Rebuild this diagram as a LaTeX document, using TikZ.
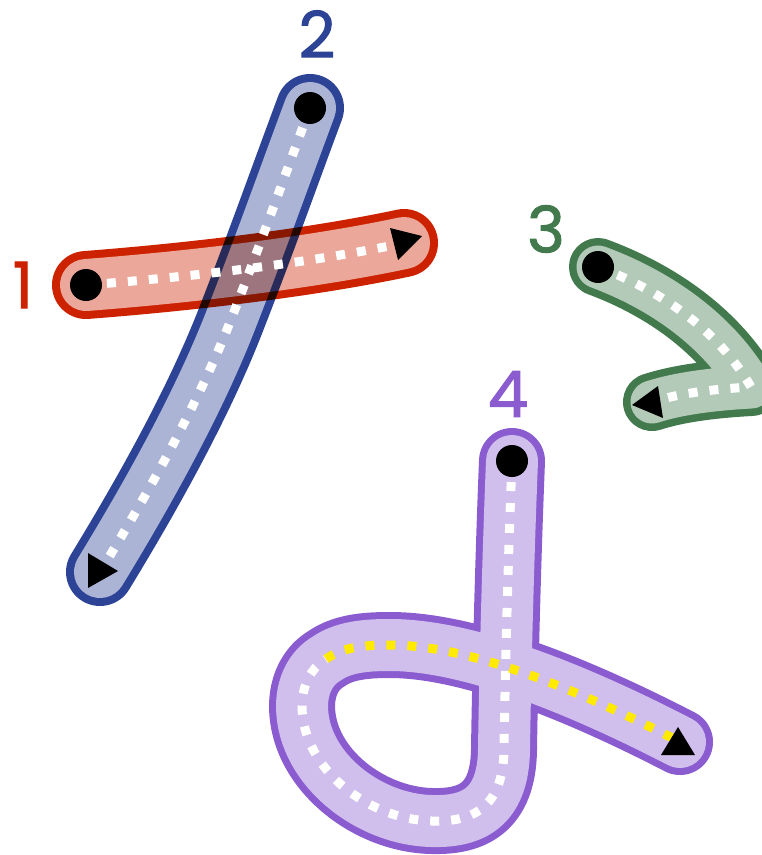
\documentclass[tikz,border=0pt]{standalone}
\usepackage{fontspec}
\newfontfamily\digitfont{Poppins}[FakeBold=1.6]
\definecolor{strokered}{HTML}{CC2200}
\definecolor{strokeblue}{HTML}{2C4396}
\definecolor{strokegreen}{HTML}{437A4D}
\definecolor{strokepurple}{HTML}{8A5CCF}
\definecolor{guideyellow}{HTML}{FFEA00}

\begin{document}
\begin{tikzpicture}[x=1pt,y=-1pt,
  band/.style={line width=#1,line cap=round,line join=round,blend mode=normal},
  guide/.style={line width=9pt,dash pattern=on 9pt off 12pt},
  startdot/.style={fill=black},
  tipmark/.style={fill=black},
  numlabel/.style={font=\digitfont\fontsize{64}{64}\selectfont,inner sep=0pt}
]
\useasboundingbox (0,0) rectangle (762,855);
\clip (0,0) rectangle (762,855);

% stroke 1
\draw[band=68,strokered] (86,285) .. controls (190,277) and (310,263) .. (404,243);
\draw[band=52,strokered!40] (86,285) .. controls (190,277) and (310,263) .. (404,243);

% stroke 2
\begin{scope}[blend mode=multiply]
\begin{scope}[transparency group]
\draw[band=68,strokeblue] (310,108) .. controls (285,175) and (262,240) .. (232,317)
  .. controls (200,400) and (150,490) .. (100,572);
\draw[band=52,strokeblue!40] (310,108) .. controls (285,175) and (262,240) .. (232,317)
  .. controls (200,400) and (150,490) .. (100,572);
\end{scope}
\end{scope}

% stroke 3
\draw[band=58,strokegreen] (598,267) .. controls (660,290) and (718,330) .. (751,387)
  .. controls (715,389) and (680,393) .. (652,402);
\draw[band=43,strokegreen!40] (598,267) .. controls (660,290) and (718,330) .. (751,387)
  .. controls (715,389) and (680,393) .. (652,402);

% stroke 4
\coordinate (top4) at (512,461);
\coordinate (down4) at (504,750);
\coordinate (low4) at (432,821);
\coordinate (left4) at (302,707);
\coordinate (turn4) at (326,659);
\coordinate (cap4) at (390,645);
\coordinate (end4) at (680,742);
\draw[band=66,strokepurple] (top4) .. controls (508,560) and (505,680) .. (down4)
  .. controls (503,810) and (470,822) .. (low4)
  .. controls (370,820) and (303,770) .. (left4)
  .. controls (302,685) and (311,668) .. (turn4)
  .. controls (343,647) and (365,645) .. (cap4)
  .. controls (460,645) and (560,680) .. (end4);
\draw[band=52,strokepurple!40] (top4) .. controls (508,560) and (505,680) .. (down4)
  .. controls (503,810) and (470,822) .. (low4)
  .. controls (370,820) and (303,770) .. (left4)
  .. controls (302,685) and (311,668) .. (turn4)
  .. controls (343,647) and (365,645) .. (cap4)
  .. controls (460,645) and (560,680) .. (end4);

% guides
\draw[guide,white] (86,285) .. controls (190,277) and (310,263) .. (404,243);
\draw[guide,white] (310,108) .. controls (285,175) and (262,240) .. (232,317)
  .. controls (200,400) and (150,490) .. (100,572);
\draw[guide,white] (598,267) .. controls (660,290) and (718,330) .. (751,387)
  .. controls (715,389) and (680,393) .. (652,402);
\draw[guide,white] (top4) .. controls (508,560) and (505,680) .. (down4)
  .. controls (503,810) and (470,822) .. (low4)
  .. controls (370,820) and (303,770) .. (left4)
  .. controls (302,685) and (311,668) .. (turn4);
\draw[guide,guideyellow] (turn4) .. controls (343,647) and (365,645) .. (cap4)
  .. controls (460,645) and (560,680) .. (end4);

% start dots and end marks
\fill[startdot] (86,285) circle[radius=16];
\fill[startdot] (310,108) circle[radius=16];
\fill[startdot] (598,267) circle[radius=16];
\fill[startdot] (top4) circle[radius=16];
\fill[tipmark] (390,228) -- (398,260) -- (422,236) -- cycle;
\fill[tipmark] (88,553) -- (88,588) -- (118,571) -- cycle;
\fill[tipmark] (658,386) -- (663,418) -- (632,405) -- cycle;
\fill[tipmark] (661,755) -- (695,755) -- (678,727) -- cycle;

% numbers
\node[numlabel,text=strokered] (one) at (23,285) {1};
\node[numlabel,text=strokeblue] (two) at (317,34) {2};
\node[numlabel,text=strokegreen] (three) at (546,229) {3};
\node[numlabel,text=strokepurple] (four) at (508,394) {4};
\end{tikzpicture}
\end{document}
